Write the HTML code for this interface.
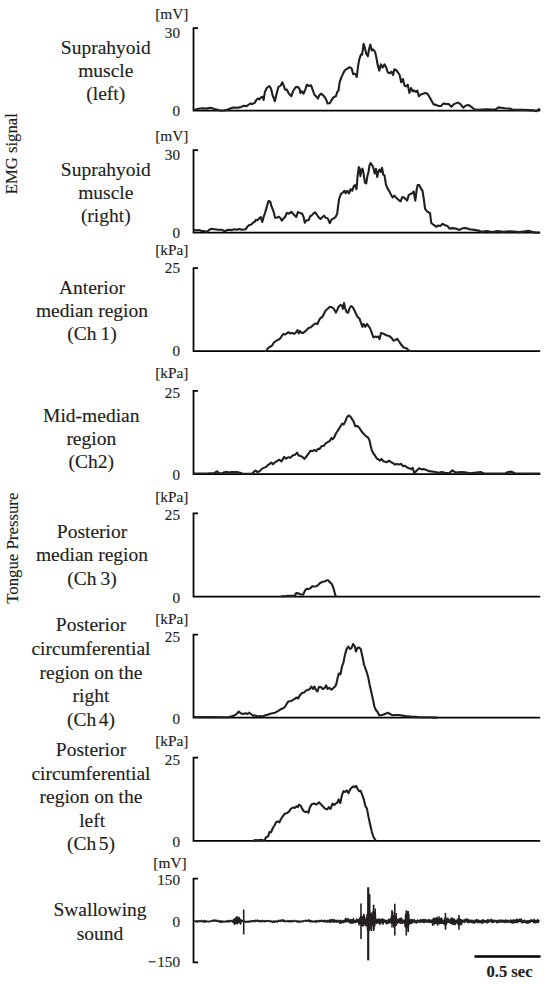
<!DOCTYPE html>
<html><head><meta charset="utf-8"><style>
html,body{margin:0;padding:0;background:#fff;width:550px;height:984px;overflow:hidden}
svg{display:block}
text{font-family:"Liberation Serif",serif}
</style></head><body>
<svg width="550" height="984" viewBox="0 0 550 984">
<rect width="100%" height="100%" fill="#fff"/>
<path d="M198.0,28.0 H193.5 V110.6 H540.2" fill="none" stroke="#000" stroke-width="1.75"/>
<path d="M198.0,150.2 H193.5 V232.6 H540.2" fill="none" stroke="#000" stroke-width="1.75"/>
<path d="M198.0,268.0 H193.5 V351.2 H540.2" fill="none" stroke="#000" stroke-width="1.75"/>
<path d="M198.0,390.9 H193.5 V474.0 H540.2" fill="none" stroke="#000" stroke-width="1.75"/>
<path d="M198.0,513.4 H193.5 V596.5 H540.2" fill="none" stroke="#000" stroke-width="1.75"/>
<path d="M198.0,634.5 H193.5 V717.6 H540.2" fill="none" stroke="#000" stroke-width="1.75"/>
<path d="M198.0,757.5 H193.5 V840.8 H540.2" fill="none" stroke="#000" stroke-width="1.75"/>
<path d="M198.0,878.7 H193.5 V962.3 H198.0" fill="none" stroke="#000" stroke-width="1.75"/>
<path d="M194.1,109.9 L198.2,108.8 L202.3,108.3 L206.4,108.6 L210.5,107.8 L214.5,109.1 L218.6,110.1 L222.7,110.7 L226.8,109.9 L230.9,108.3 L233.4,107.5 L237.5,107.8 L240.7,107.1 L244.0,105.8 L246.5,106.1 L248.9,104.5 L250.5,103.4 L252.2,104.2 L254.6,102.9 L256.3,100.1 L257.9,98.5 L259.5,99.3 L261.2,97.3 L262.8,96.8 L263.6,100.1 L264.9,91.9 L266.9,87.8 L269.4,86.2 L271.0,88.6 L272.6,95.2 L274.8,101.2 L276.6,93.7 L278.3,87.2 L280.7,85.5 L282.4,82.3 L284.0,86.4 L285.1,89.6 L286.8,89.6 L288.9,93.7 L291.4,96.2 L293.0,91.3 L295.5,87.2 L297.9,86.9 L299.5,88.8 L300.4,92.9 L302.0,91.3 L303.6,93.7 L305.3,89.6 L306.9,84.7 L308.5,85.9 L311.0,85.2 L312.6,89.6 L314.3,94.5 L315.9,96.2 L317.9,98.6 L319.2,95.4 L321.1,93.7 L323.3,95.4 L325.7,98.6 L327.7,103.5 L329.8,103.2 L331.9,99.5 L333.9,97.0 L335.9,96.2 L337.2,92.1 L338.5,90.5 L339.6,82.3 L341.3,77.4 L342.9,74.1 L344.5,70.8 L346.2,69.2 L347.8,68.4 L349.5,67.2 L351.6,68.4 L353.2,74.1 L355.2,73.8 L356.8,77.0 L358.1,65.9 L359.3,59.4 L360.9,54.5 L362.1,54.8 L363.6,43.8 L364.9,47.9 L366.2,53.6 L367.9,56.1 L369.0,49.5 L370.3,44.6 L371.8,50.4 L373.4,49.5 L375.1,52.0 L376.4,57.7 L377.7,65.1 L379.3,70.8 L380.9,64.3 L382.6,67.5 L384.5,64.3 L386.2,67.5 L387.8,72.5 L389.8,73.3 L391.4,71.6 L393.1,74.9 L394.4,69.2 L396.0,70.0 L398.0,72.5 L399.6,74.9 L401.2,82.3 L402.9,79.0 L404.5,85.5 L406.1,86.4 L407.8,84.7 L409.4,92.9 L411.1,88.0 L412.7,91.3 L414.3,90.5 L416.0,92.1 L417.3,90.5 L418.9,96.2 L420.9,94.5 L423.0,93.7 L425.5,92.9 L427.4,93.7 L429.5,97.0 L431.7,101.1 L433.6,104.4 L436.1,104.9 L438.5,106.0 L441.0,106.0 L443.5,103.5 L445.9,103.9 L448.6,104.1 L451.4,106.8 L454.1,104.1 L457.7,102.6 L460.5,104.1 L463.2,107.7 L465.9,105.5 L468.6,105.0 L471.4,106.8 L474.1,109.2 L477.7,109.9 L481.4,109.5 L486.8,109.2 L492.3,109.5 L495.9,109.2 L498.6,107.4 L501.4,107.7 L505.0,108.3 L509.5,108.5 L512.3,109.5 L517.7,109.9 L523.2,109.7 L528.6,110.1 L534.1,110.4 L536.3,111.2 L538.5,109.3 L539.5,109.6" fill="none" stroke="#231f20" stroke-width="2.1" stroke-linejoin="round" stroke-linecap="round"/>
<path d="M194.1,229.8 L196.5,230.4 L199.0,230.1 L201.5,230.9 L204.7,231.2 L207.2,231.7 L209.3,229.8 L211.6,228.8 L214.5,229.3 L217.8,229.8 L221.1,229.8 L223.5,230.4 L224.7,231.7 L226.8,230.1 L229.3,229.8 L231.7,230.1 L234.2,229.3 L236.6,229.8 L239.1,229.1 L242.4,229.8 L245.6,229.3 L247.3,226.8 L248.9,225.2 L251.4,224.4 L253.0,222.7 L254.6,221.9 L255.8,219.9 L257.4,220.3 L259.1,218.6 L260.7,217.0 L262.3,221.9 L263.6,217.0 L265.3,212.1 L266.9,206.4 L268.5,201.0 L270.2,201.5 L271.5,206.4 L273.5,211.3 L275.1,217.8 L276.6,217.8 L278.6,216.7 L280.2,217.8 L281.9,220.6 L283.5,218.6 L285.1,217.0 L286.8,212.9 L288.9,213.7 L291.4,211.8 L293.0,213.7 L294.6,215.4 L296.3,217.0 L297.9,212.1 L299.9,212.9 L302.0,213.4 L303.6,217.0 L304.8,222.7 L306.4,220.3 L308.5,220.3 L310.2,216.2 L311.8,215.4 L313.5,213.4 L315.1,212.4 L316.7,214.5 L318.4,217.0 L320.5,219.0 L322.5,217.0 L324.1,215.7 L325.7,217.8 L327.7,218.3 L329.8,223.2 L331.5,219.5 L333.6,218.6 L335.5,217.0 L337.2,213.7 L338.0,207.2 L339.1,199.0 L340.8,194.1 L342.9,192.5 L344.5,190.8 L345.7,193.3 L347.3,190.8 L349.0,193.3 L350.6,189.2 L352.2,190.8 L353.9,185.9 L355.2,185.1 L356.5,189.2 L357.6,176.1 L358.8,167.1 L359.8,168.7 L360.4,176.1 L361.3,171.2 L362.5,168.7 L363.6,173.6 L364.9,182.6 L366.2,183.5 L367.4,176.1 L368.5,172.0 L369.5,165.5 L370.6,163.0 L372.3,165.5 L373.4,167.9 L374.7,173.6 L376.0,168.7 L377.2,176.9 L378.3,172.0 L379.6,169.5 L380.9,172.0 L382.1,167.9 L383.2,174.5 L384.5,175.3 L385.9,184.3 L387.5,188.4 L389.5,191.6 L391.1,194.9 L392.7,197.4 L394.4,195.7 L396.0,197.4 L397.6,199.0 L399.3,200.6 L400.6,201.5 L402.2,197.0 L403.9,197.4 L405.5,199.0 L407.1,200.6 L408.8,194.9 L410.4,194.1 L412.0,193.3 L413.7,191.6 L415.3,200.6 L416.5,190.8 L417.6,185.1 L419.2,185.1 L420.9,188.4 L422.5,190.8 L423.8,199.0 L425.1,208.8 L427.1,211.3 L428.7,212.4 L430.0,212.9 L431.2,222.7 L432.8,224.4 L434.5,225.2 L436.1,226.8 L438.2,225.5 L440.2,226.0 L442.6,223.9 L445.1,225.2 L447.5,226.0 L449.5,228.6 L452.3,228.1 L455.9,228.6 L459.5,229.9 L462.3,228.3 L465.9,228.1 L469.5,229.2 L474.1,229.9 L478.6,230.6 L481.4,231.7 L486.8,231.0 L492.3,232.1 L497.7,231.0 L503.2,231.9 L508.6,231.4 L514.1,231.5 L519.5,232.1 L525.0,231.4 L528.6,230.8 L532.3,231.9 L535.9,232.6 L539.2,232.5" fill="none" stroke="#231f20" stroke-width="2.1" stroke-linejoin="round" stroke-linecap="round"/>
<path d="M266.4,350.9 L268.0,348.1 L270.5,346.5 L272.1,345.6 L273.7,342.7 L276.2,340.7 L278.6,339.6 L280.3,338.3 L281.9,335.8 L283.5,333.9 L285.2,334.5 L286.8,333.4 L288.5,332.2 L290.1,333.4 L292.2,332.9 L294.2,333.9 L296.1,332.2 L297.5,330.1 L298.8,333.4 L299.9,330.9 L301.5,332.9 L303.2,332.9 L304.8,331.7 L306.5,330.1 L308.6,328.0 L310.9,327.3 L313.0,325.2 L315.1,323.5 L317.4,324.0 L319.1,320.3 L320.7,317.8 L322.3,317.0 L324.0,313.7 L325.6,310.5 L327.7,308.8 L329.9,306.7 L331.8,307.2 L333.8,308.8 L335.9,312.6 L337.5,309.6 L338.3,307.2 L340.2,305.1 L341.9,305.5 L342.9,308.8 L344.0,303.1 L345.1,308.0 L346.5,312.1 L348.1,312.9 L349.4,308.8 L351.0,306.0 L352.7,307.2 L354.3,310.0 L355.9,313.7 L357.6,317.0 L359.5,318.6 L361.2,323.5 L362.5,326.8 L363.6,324.0 L365.3,326.8 L366.9,324.0 L368.5,326.0 L370.2,328.5 L371.8,332.9 L373.5,337.5 L375.1,336.6 L376.7,337.1 L378.4,336.6 L379.5,339.1 L381.1,332.9 L382.8,333.4 L384.9,334.5 L387.0,335.5 L389.3,336.1 L391.5,337.8 L393.6,340.7 L395.5,339.9 L397.2,338.8 L399.1,341.5 L401.3,344.8 L403.4,347.3 L405.4,348.1 L407.0,348.6 L408.6,350.5 L411.1,351.0" fill="none" stroke="#231f20" stroke-width="2.1" stroke-linejoin="round" stroke-linecap="round"/>
<path d="M194.1,473.5 L206.4,473.5 L214.5,473.0 L217.0,471.4 L219.1,473.0 L221.9,473.5 L224.4,472.2 L226.8,471.9 L229.3,472.5 L231.7,471.9 L234.2,472.2 L236.6,471.9 L239.1,472.5 L242.4,473.5 L247.3,473.8 L252.2,473.8 L253.8,471.9 L255.5,470.5 L257.1,471.9 L259.5,471.4 L262.0,468.6 L264.5,467.6 L266.1,466.9 L267.7,465.3 L269.4,464.0 L271.5,462.7 L273.1,464.3 L274.8,462.4 L276.6,461.4 L279.1,459.7 L281.5,461.4 L284.0,456.9 L286.1,458.6 L288.1,457.3 L290.5,457.6 L293.0,455.3 L295.0,454.8 L297.1,452.7 L298.7,455.6 L300.9,456.0 L302.8,457.3 L304.5,458.9 L306.4,456.5 L308.5,453.7 L310.7,450.7 L312.6,451.1 L314.3,449.9 L316.2,451.1 L317.9,448.8 L319.5,449.1 L321.6,446.1 L323.8,445.8 L325.7,443.4 L327.7,442.2 L329.8,440.9 L331.5,438.0 L332.6,439.3 L334.2,437.3 L335.9,433.5 L338.0,430.3 L340.1,427.0 L342.1,423.7 L343.7,424.5 L345.4,421.3 L347.0,417.2 L348.6,415.5 L350.3,416.4 L351.9,418.8 L353.5,421.3 L355.2,426.2 L357.1,425.9 L359.3,427.8 L360.9,430.3 L362.9,433.1 L364.6,434.7 L366.2,436.4 L368.2,437.7 L369.5,440.5 L370.6,445.4 L371.8,450.3 L373.4,453.5 L375.1,455.7 L376.7,458.5 L378.3,459.3 L380.0,460.6 L381.6,458.9 L383.2,461.2 L385.4,461.7 L387.0,462.2 L389.1,460.6 L391.1,462.2 L392.7,462.9 L394.7,464.5 L396.8,463.9 L399.3,464.5 L401.2,463.9 L402.9,466.1 L405.0,465.8 L407.1,467.5 L409.1,468.3 L411.1,469.1 L412.7,467.8 L414.3,473.2 L416.5,470.7 L419.2,468.3 L421.4,469.4 L423.8,469.1 L426.3,469.9 L428.7,471.1 L432.0,471.5 L435.3,472.0 L438.5,472.7 L441.8,472.0 L445.1,472.7 L449.2,473.2 L452.3,470.4 L455.5,472.5 L461.0,472.0 L465.0,472.2 L470.0,473.3 L480.5,472.0 L484.0,473.5 L505.0,473.6 L508.0,472.0 L511.4,471.6 L515.0,473.3 L539.5,473.6" fill="none" stroke="#231f20" stroke-width="2.1" stroke-linejoin="round" stroke-linecap="round"/>
<path d="M281.6,596.3 L284.5,596.3 L287.5,595.9 L291.8,595.9 L294.7,595.6 L296.2,593.1 L298.4,593.4 L300.5,594.2 L303.2,594.6 L304.9,590.8 L306.7,588.8 L308.5,589.1 L310.4,588.3 L312.2,586.2 L314.4,586.5 L316.5,586.2 L318.3,584.7 L320.2,583.0 L322.4,581.8 L324.5,581.5 L326.7,580.3 L328.2,580.3 L329.6,582.1 L331.8,584.0 L333.3,587.6 L334.7,592.7 L335.7,596.3" fill="none" stroke="#231f20" stroke-width="2.1" stroke-linejoin="round" stroke-linecap="round"/>
<path d="M194.2,717.0 L210.0,717.1 L227.6,717.3 L230.9,716.5 L234.2,715.6 L236.6,714.0 L238.8,711.5 L240.7,713.2 L243.2,714.0 L245.6,713.2 L247.6,714.0 L249.2,712.7 L250.9,714.0 L253.0,715.6 L255.5,715.6 L257.9,716.5 L260.4,716.0 L262.8,716.5 L265.3,715.3 L267.7,714.8 L270.2,713.7 L272.6,713.2 L275.1,712.7 L277.0,711.6 L279.1,710.3 L281.2,709.0 L283.2,708.3 L285.1,706.7 L286.8,703.7 L288.4,701.3 L290.5,701.3 L292.7,700.1 L294.6,698.8 L296.6,697.5 L298.2,698.5 L299.9,695.2 L302.0,693.1 L304.1,692.6 L306.1,690.6 L308.1,689.8 L309.7,689.3 L311.3,686.5 L313.0,689.0 L314.3,686.5 L315.9,689.8 L317.5,691.5 L318.9,687.0 L320.8,687.0 L322.8,689.0 L324.4,688.2 L326.1,685.4 L327.7,689.0 L329.3,687.7 L331.5,689.8 L333.6,687.7 L335.2,686.5 L336.4,683.8 L337.5,678.4 L338.8,673.5 L340.5,674.3 L342.1,666.1 L343.4,662.8 L345.0,654.6 L346.7,648.9 L348.3,646.5 L350.0,648.9 L351.6,647.8 L353.2,644.0 L354.9,646.5 L356.0,651.4 L357.6,647.8 L359.1,647.4 L360.7,649.0 L362.4,656.4 L364.0,664.5 L366.1,670.3 L368.1,676.8 L369.7,685.0 L371.4,692.4 L373.0,699.7 L374.3,706.3 L375.9,710.0 L377.6,712.0 L379.2,715.3 L381.2,715.3 L383.6,714.5 L386.1,713.6 L387.7,712.8 L390.2,714.0 L392.6,715.3 L395.9,715.0 L399.2,715.0 L402.5,715.6 L405.7,716.1 L410.6,716.6 L415.5,716.9 L420.5,717.2 L428.6,717.2 L436.8,717.6" fill="none" stroke="#231f20" stroke-width="2.1" stroke-linejoin="round" stroke-linecap="round"/>
<path d="M253.2,840.8 L255.6,840.0 L258.1,840.3 L260.5,839.8 L263.0,840.3 L264.6,840.0 L266.3,837.0 L268.2,836.2 L269.5,832.1 L271.2,832.1 L272.8,828.0 L274.5,825.5 L276.1,822.3 L277.7,821.5 L279.4,822.3 L281.0,819.0 L282.6,816.5 L284.6,813.8 L286.7,813.3 L288.9,811.6 L290.8,808.9 L292.8,807.5 L294.9,807.9 L296.5,806.2 L297.7,807.2 L299.0,804.6 L300.6,805.6 L302.3,808.9 L303.6,811.1 L305.5,812.1 L307.2,811.6 L308.5,812.8 L309.6,807.9 L311.6,804.3 L314.1,803.5 L316.5,804.6 L319.0,802.3 L320.6,803.9 L322.8,806.2 L324.7,808.4 L327.2,809.5 L328.8,807.2 L330.5,808.9 L332.6,803.5 L334.2,805.1 L335.9,803.5 L337.5,802.3 L338.6,799.4 L340.3,803.0 L341.9,795.3 L343.5,791.2 L345.2,792.0 L346.8,790.4 L348.5,793.1 L350.1,789.5 L351.7,787.6 L353.4,786.3 L355.0,787.1 L356.1,785.9 L357.8,789.2 L359.1,791.2 L360.7,790.9 L362.4,795.3 L364.0,800.2 L365.6,806.7 L366.9,808.4 L368.6,817.4 L370.2,824.7 L371.9,832.1 L373.5,837.0 L375.5,840.3" fill="none" stroke="#231f20" stroke-width="2.1" stroke-linejoin="round" stroke-linecap="round"/>
<path d="M194.3,921.9 L195.1,920.8 L195.9,921.8 L196.7,920.9 L197.5,922.1 L198.3,920.6 L199.1,921.6 L199.9,920.8 L200.7,921.5 L201.5,920.4 L202.3,921.8 L203.1,920.9 L203.9,922.1 L204.7,920.4 L205.5,922.1 L206.3,920.8 L207.1,921.8 L207.9,921.3 L208.7,922.0 L209.5,921.1 L210.3,921.6 L211.1,920.7 L211.9,921.2 L212.7,920.3 L213.5,921.3 L214.3,919.9 L215.1,921.2 L215.9,920.1 L216.7,921.4 L217.5,920.3 L218.3,921.6 L219.1,920.9 L219.9,922.3 L220.7,920.7 L221.5,922.4 L222.3,921.0 L223.1,922.1 L223.9,921.2 L224.7,921.9 L225.5,921.1 L226.3,922.0 L227.1,920.7 L227.9,921.9 L228.7,920.6 L229.5,921.9 L230.3,920.3 L231.1,921.4 L231.9,920.8 L232.7,922.1 L233.5,919.4 L234.3,924.5 L235.1,919.5 L235.9,922.2 L236.7,918.8 L237.5,923.7 L238.3,919.5 L239.1,921.9 L239.9,919.2 L240.7,923.9 L241.5,920.1 L242.3,921.2 L243.1,920.6 L243.9,921.5 L244.7,921.1 L245.5,922.2 L246.3,921.3 L247.1,922.3 L247.9,921.2 L248.7,922.1 L249.5,921.0 L250.3,921.9 L251.1,920.8 L251.9,921.6 L252.7,920.6 L253.5,921.4 L254.3,920.5 L255.1,921.7 L255.9,920.1 L256.7,921.3 L257.5,920.1 L258.3,921.4 L259.1,920.6 L259.9,922.0 L260.7,920.6 L261.5,921.6 L262.3,920.4 L263.1,921.6 L263.9,920.8 L264.7,921.8 L265.5,920.6 L266.3,921.4 L267.1,920.7 L267.9,921.3 L268.7,920.5 L269.5,921.6 L270.3,920.7 L271.1,921.9 L271.9,921.0 L272.7,922.5 L273.5,921.1 L274.3,922.3 L275.1,920.8 L275.9,921.9 L276.7,921.1 L277.5,922.1 L278.3,920.3 L279.1,921.3 L279.9,920.4 L280.7,921.4 L281.5,919.8 L282.3,921.1 L283.1,919.9 L283.9,921.7 L284.7,920.4 L285.5,921.7 L286.3,921.0 L287.1,921.6 L287.9,920.5 L288.7,921.8 L289.5,920.7 L290.3,921.8 L291.1,920.5 L291.9,921.9 L292.7,920.8 L293.5,921.5 L294.3,920.4 L295.1,921.4 L295.9,920.9 L296.7,921.9 L297.5,920.6 L298.3,922.1 L299.1,921.1 L299.9,922.4 L300.7,921.1 L301.5,921.7 L302.3,920.9 L303.1,921.7 L303.9,920.8 L304.7,921.2 L305.5,920.3 L306.3,921.3 L307.1,920.3 L307.9,921.1 L308.7,919.9 L309.5,921.7 L310.3,920.3 L311.1,921.9 L311.9,920.7 L312.7,921.8 L313.5,921.3 L314.3,921.9 L315.1,920.8 L315.9,922.3 L316.7,920.6 L317.5,921.7 L318.3,920.7 L319.1,921.8 L319.9,920.4 L320.7,921.5 L321.5,920.2 L322.3,921.4 L323.1,920.6 L323.9,921.9 L324.7,920.4 L325.5,922.0 L326.3,920.6 L327.1,922.1 L327.9,920.4 L328.7,922.0 L329.5,919.9 L330.3,922.5 L331.1,919.4 L331.9,921.7 L332.7,919.4 L333.5,922.2 L334.3,919.7 L335.1,922.1 L335.9,920.2 L336.7,922.3 L337.5,920.2 L338.3,922.0 L339.1,920.5 L339.9,923.3 L340.7,920.3 L341.5,923.0 L342.3,920.8 L343.1,922.8 L343.9,920.3 L344.7,922.2 L345.5,918.6 L346.3,921.9 L347.1,918.6 L347.9,921.7 L348.7,918.9 L349.5,922.7 L350.3,919.8 L351.1,923.3 L351.9,919.4 L352.7,923.2 L353.5,918.6 L354.3,922.5 L355.1,920.5 L355.9,922.5 L356.7,919.0 L357.5,922.1 L358.3,919.4 L359.1,924.9 L359.9,917.8 L360.7,923.5 L361.5,917.3 L362.3,923.3 L363.1,918.2 L363.9,923.2 L364.7,919.2 L365.5,925.3 L366.3,917.8 L367.1,925.5 L367.9,919.4 L368.7,924.4 L369.5,919.3 L370.3,922.7 L371.1,918.4 L371.9,924.6 L372.7,917.1 L373.5,924.0 L374.3,916.7 L375.1,922.7 L375.9,919.3 L376.7,923.4 L377.5,919.2 L378.3,922.9 L379.1,918.9 L379.9,924.4 L380.7,919.5 L381.5,922.8 L382.3,918.7 L383.1,924.2 L383.9,919.5 L384.7,922.1 L385.5,920.3 L386.3,923.8 L387.1,920.3 L387.9,923.6 L388.7,919.3 L389.5,922.8 L390.3,918.9 L391.1,922.3 L391.9,920.5 L392.7,923.3 L393.5,920.7 L394.3,924.0 L395.1,920.0 L395.9,922.2 L396.7,920.1 L397.5,923.0 L398.3,919.0 L399.1,922.8 L399.9,918.4 L400.7,923.3 L401.5,917.9 L402.3,923.2 L403.1,919.9 L403.9,923.0 L404.7,920.2 L405.5,922.3 L406.3,919.7 L407.1,923.9 L407.9,920.4 L408.7,922.9 L409.5,919.9 L410.3,923.7 L411.1,919.3 L411.9,923.3 L412.7,919.7 L413.5,922.1 L414.3,919.6 L415.1,922.8 L415.9,920.7 L416.7,923.0 L417.5,919.9 L418.3,922.0 L419.1,920.3 L419.9,922.6 L420.7,919.6 L421.5,922.1 L422.3,919.8 L423.1,922.6 L423.9,919.3 L424.7,922.5 L425.5,919.6 L426.3,922.1 L427.1,920.1 L427.9,922.4 L428.7,919.5 L429.5,922.6 L430.3,920.0 L431.1,922.3 L431.9,920.0 L432.7,925.3 L433.5,918.2 L434.3,924.0 L435.1,918.5 L435.9,923.2 L436.7,918.0 L437.5,924.4 L438.3,919.2 L439.1,922.1 L439.9,918.8 L440.7,923.3 L441.5,918.0 L442.3,923.2 L443.1,920.1 L443.9,924.2 L444.7,920.1 L445.5,924.3 L446.3,919.9 L447.1,923.0 L447.9,918.1 L448.7,922.4 L449.5,919.7 L450.3,923.2 L451.1,918.1 L451.9,924.1 L452.7,918.2 L453.5,924.5 L454.3,918.9 L455.1,924.7 L455.9,920.3 L456.7,923.1 L457.5,919.3 L458.3,923.4 L459.1,918.9 L459.9,924.3 L460.7,919.3 L461.5,924.6 L462.3,920.0 L463.1,922.1 L463.9,919.9 L464.7,922.6 L465.5,918.9 L466.3,921.6 L467.1,919.0 L467.9,922.8 L468.7,919.6 L469.5,922.4 L470.3,920.3 L471.1,922.5 L471.9,920.0 L472.7,922.7 L473.5,920.8 L474.3,923.3 L475.1,920.0 L475.9,922.3 L476.7,919.5 L477.5,922.5 L478.3,919.9 L479.1,922.7 L479.9,920.6 L480.7,922.6 L481.5,920.2 L482.3,923.4 L483.1,919.6 L483.9,922.5 L484.7,920.4 L485.5,922.3 L486.3,920.4 L487.1,923.1 L487.9,919.4 L488.7,922.3 L489.5,920.0 L490.3,921.6 L491.1,919.3 L491.9,922.5 L492.7,920.0 L493.5,922.4 L494.3,920.3 L495.1,921.7 L495.9,920.3 L496.7,922.8 L497.5,920.4 L498.3,922.5 L499.1,920.1 L499.9,922.2 L500.7,919.9 L501.5,922.1 L502.3,920.1 L503.1,922.2 L503.9,920.4 L504.7,922.5 L505.5,920.0 L506.3,922.2 L507.1,920.1 L507.9,922.5 L508.7,920.6 L509.5,922.2 L510.3,920.0 L511.1,922.9 L511.9,920.1 L512.7,923.1 L513.5,919.8 L514.3,922.9 L515.1,920.1 L515.9,922.5 L516.7,919.0 L517.5,922.6 L518.3,919.7 L519.1,921.7 L519.9,919.0 L520.7,921.8 L521.5,919.1 L522.3,923.1 L523.1,920.8 L523.9,922.5 L524.7,920.1 L525.5,922.6 L526.3,921.0 L527.1,923.4 L527.9,920.4 L528.7,923.1 L529.5,920.6 L530.3,922.3 L531.1,919.5 L531.9,921.5 L532.7,920.2 L533.5,922.5 L534.3,919.2 L535.1,923.0 L535.9,920.5 L536.7,922.5 L537.5,919.6 L538.3,922.5 L539.1,919.7" fill="none" stroke="#231f20" stroke-width="1.5" stroke-linejoin="round"/>
<path d="M243.7,909.5 V934.4" stroke="#231f20" stroke-width="1.6"/>
<path d="M236.5,916.5 V924.2" stroke="#231f20" stroke-width="1.2"/>
<path d="M239.5,917.0 V923.5" stroke="#231f20" stroke-width="1.2"/>
<path d="M361.0,903.5 V938.9" stroke="#231f20" stroke-width="1.6"/>
<path d="M363.8,913.7 V926.3" stroke="#231f20" stroke-width="1.5"/>
<path d="M368.2,887.3 V960.4" stroke="#231f20" stroke-width="2.2"/>
<path d="M369.7,894.2 V929.5" stroke="#231f20" stroke-width="1.6"/>
<path d="M371.2,912.5 V931.0" stroke="#231f20" stroke-width="1.6"/>
<path d="M373.6,904.7 V931.0" stroke="#231f20" stroke-width="1.7"/>
<path d="M375.2,908.4 V923.8" stroke="#231f20" stroke-width="1.5"/>
<path d="M392.0,910.0 V927.5" stroke="#231f20" stroke-width="1.5"/>
<path d="M394.8,903.7 V935.6" stroke="#231f20" stroke-width="1.6"/>
<path d="M396.3,913.0 V926.0" stroke="#231f20" stroke-width="1.3"/>
<path d="M406.3,910.3 V935.6" stroke="#231f20" stroke-width="1.6"/>
<path d="M408.2,911.0 V932.0" stroke="#231f20" stroke-width="1.5"/>
<path d="M445.5,912.9 V929.7" stroke="#231f20" stroke-width="1.6"/>
<path d="M459.0,915.0 V929.7" stroke="#231f20" stroke-width="1.6"/>
<path d="M233.5,921.2 L233.9,922.2 L234.4,918.8 L234.8,923.3 L235.3,917.9 L235.7,923.9 L236.2,919.0 L236.6,923.4 L237.1,916.5 L237.5,923.8 L238.0,916.7 L238.4,922.7 L238.9,918.2 L239.3,922.6 L239.8,918.8 L240.2,922.4 L240.7,920.6" fill="none" stroke="#231f20" stroke-width="1.1" stroke-linejoin="round"/>
<path d="M360.0,921.2 L360.4,922.7 L360.9,915.5 L361.3,925.3 L361.8,916.7 L362.2,926.2 L362.7,916.4 L363.1,925.7 L363.6,916.8 L364.0,923.4 L364.5,915.3 L364.9,922.8 L365.4,920.3" fill="none" stroke="#231f20" stroke-width="1.1" stroke-linejoin="round"/>
<path d="M366.0,921.2 L366.4,925.9 L366.9,914.4 L367.3,930.1 L367.8,909.8 L368.2,930.0 L368.7,912.1 L369.1,931.1 L369.6,909.7 L370.0,928.7 L370.5,913.7 L370.9,922.0" fill="none" stroke="#231f20" stroke-width="1.1" stroke-linejoin="round"/>
<path d="M371.0,921.2 L371.4,923.6 L371.9,915.2 L372.3,925.1 L372.8,911.6 L373.2,928.8 L373.7,913.7 L374.1,929.0 L374.6,911.8 L375.0,925.9 L375.5,912.4 L375.9,923.4" fill="none" stroke="#231f20" stroke-width="1.1" stroke-linejoin="round"/>
<path d="M390.3,921.2 L390.8,922.9 L391.2,916.0 L391.6,923.3 L392.1,912.3 L392.5,923.8 L393.0,912.0 L393.4,926.9 L393.9,916.0 L394.3,926.7 L394.8,914.2 L395.2,925.6 L395.7,917.0 L396.1,923.4 L396.6,917.6 L397.0,923.8 L397.5,920.3" fill="none" stroke="#231f20" stroke-width="1.1" stroke-linejoin="round"/>
<path d="M404.5,921.2 L404.9,926.6 L405.4,914.1 L405.8,927.8 L406.3,914.6 L406.7,930.4 L407.2,911.4 L407.6,927.6 L408.1,912.2 L408.5,930.7 L409.0,914.1 L409.4,924.2 L409.9,919.3" fill="none" stroke="#231f20" stroke-width="1.1" stroke-linejoin="round"/>
<path d="M432.0,921.2 L432.4,922.0 L432.9,919.4 L433.3,923.5 L433.8,919.0 L434.2,924.2 L434.7,918.1 L435.1,923.5 L435.6,918.2 L436.0,923.4 L436.5,918.7 L436.9,923.5 L437.4,916.9 L437.8,925.5 L438.3,918.4 L438.7,923.2 L439.2,916.4 L439.6,924.0 L440.1,918.3 L440.5,923.1 L441.0,918.4 L441.4,923.5 L441.9,919.4 L442.3,922.3 L442.8,920.8" fill="none" stroke="#231f20" stroke-width="1.1" stroke-linejoin="round"/>
<path d="M444.0,921.2 L444.4,922.9 L444.9,917.3 L445.3,926.4 L445.8,918.1 L446.2,925.2 L446.7,918.2" fill="none" stroke="#231f20" stroke-width="1.1" stroke-linejoin="round"/>
<path d="M457.5,921.2 L457.9,924.4 L458.4,918.9 L458.8,925.2 L459.3,918.5 L459.7,925.5 L460.2,919.6" fill="none" stroke="#231f20" stroke-width="1.1" stroke-linejoin="round"/>
<path d="M474.5,956.6 H540.6" stroke="#000" stroke-width="2.5"/>
<text x="180.0" y="37.6" font-size="15.2" text-anchor="end" font-family="Liberation Serif, serif" fill="#231f20" stroke="#231f20" stroke-width="0.15" >30</text>
<text x="180.0" y="115.6" font-size="15.2" text-anchor="end" font-family="Liberation Serif, serif" fill="#231f20" stroke="#231f20" stroke-width="0.15" >0</text>
<text x="180.0" y="159.79999999999998" font-size="15.2" text-anchor="end" font-family="Liberation Serif, serif" fill="#231f20" stroke="#231f20" stroke-width="0.15" >30</text>
<text x="180.0" y="237.6" font-size="15.2" text-anchor="end" font-family="Liberation Serif, serif" fill="#231f20" stroke="#231f20" stroke-width="0.15" >0</text>
<text x="180.0" y="273.2" font-size="15.2" text-anchor="end" font-family="Liberation Serif, serif" fill="#231f20" stroke="#231f20" stroke-width="0.15" >25</text>
<text x="180.0" y="356.2" font-size="15.2" text-anchor="end" font-family="Liberation Serif, serif" fill="#231f20" stroke="#231f20" stroke-width="0.15" >0</text>
<text x="180.0" y="398.2" font-size="15.2" text-anchor="end" font-family="Liberation Serif, serif" fill="#231f20" stroke="#231f20" stroke-width="0.15" >25</text>
<text x="180.0" y="480.3" font-size="15.2" text-anchor="end" font-family="Liberation Serif, serif" fill="#231f20" stroke="#231f20" stroke-width="0.15" >0</text>
<text x="180.0" y="519.8" font-size="15.2" text-anchor="end" font-family="Liberation Serif, serif" fill="#231f20" stroke="#231f20" stroke-width="0.15" >25</text>
<text x="180.0" y="602.5" font-size="15.2" text-anchor="end" font-family="Liberation Serif, serif" fill="#231f20" stroke="#231f20" stroke-width="0.15" >0</text>
<text x="180.0" y="641.5" font-size="15.2" text-anchor="end" font-family="Liberation Serif, serif" fill="#231f20" stroke="#231f20" stroke-width="0.15" >25</text>
<text x="180.0" y="723.6" font-size="15.2" text-anchor="end" font-family="Liberation Serif, serif" fill="#231f20" stroke="#231f20" stroke-width="0.15" >0</text>
<text x="180.0" y="765.1" font-size="15.2" text-anchor="end" font-family="Liberation Serif, serif" fill="#231f20" stroke="#231f20" stroke-width="0.15" >25</text>
<text x="180.0" y="846.8" font-size="15.2" text-anchor="end" font-family="Liberation Serif, serif" fill="#231f20" stroke="#231f20" stroke-width="0.15" >0</text>
<text x="171.8" y="19.0" font-size="15.4" text-anchor="middle" font-family="Liberation Serif, serif" fill="#231f20" stroke="#231f20" stroke-width="0.15" >[mV]</text>
<text x="171.8" y="140.5" font-size="15.4" text-anchor="middle" font-family="Liberation Serif, serif" fill="#231f20" stroke="#231f20" stroke-width="0.15" >[mV]</text>
<text x="171.8" y="254.8" font-size="15.4" text-anchor="middle" font-family="Liberation Serif, serif" fill="#231f20" stroke="#231f20" stroke-width="0.15" >[kPa]</text>
<text x="171.8" y="378.0" font-size="15.4" text-anchor="middle" font-family="Liberation Serif, serif" fill="#231f20" stroke="#231f20" stroke-width="0.15" >[kPa]</text>
<text x="171.8" y="501.8" font-size="15.4" text-anchor="middle" font-family="Liberation Serif, serif" fill="#231f20" stroke="#231f20" stroke-width="0.15" >[kPa]</text>
<text x="171.8" y="624.2" font-size="15.4" text-anchor="middle" font-family="Liberation Serif, serif" fill="#231f20" stroke="#231f20" stroke-width="0.15" >[kPa]</text>
<text x="171.8" y="745.6" font-size="15.4" text-anchor="middle" font-family="Liberation Serif, serif" fill="#231f20" stroke="#231f20" stroke-width="0.15" >[kPa]</text>
<text x="170.0" y="868.0" font-size="15.4" text-anchor="middle" font-family="Liberation Serif, serif" fill="#231f20" stroke="#231f20" stroke-width="0.15" >[mV]</text>
<text x="180.0" y="884.6" font-size="15.2" text-anchor="end" font-family="Liberation Serif, serif" fill="#231f20" stroke="#231f20" stroke-width="0.15" >150</text>
<text x="180.0" y="926.7" font-size="15.2" text-anchor="end" font-family="Liberation Serif, serif" fill="#231f20" stroke="#231f20" stroke-width="0.15" >0</text>
<text x="180.0" y="967.1" font-size="15.2" text-anchor="end" font-family="Liberation Serif, serif" fill="#231f20" stroke="#231f20" stroke-width="0.15" >−<tspan dx="0.8">150</tspan></text>
<text x="509.5" y="977.2" font-size="16.6" text-anchor="middle" font-family="Liberation Serif, serif" fill="#231f20" stroke="#231f20" stroke-width="0.15" font-weight="bold">0.5 sec</text>
<text x="105.8" y="53.6" font-size="19.5" text-anchor="middle" font-family="Liberation Serif, serif" fill="#231f20" stroke="#231f20" stroke-width="0.15" >Suprahyoid</text>
<text x="105.8" y="76.5" font-size="19.5" text-anchor="middle" font-family="Liberation Serif, serif" fill="#231f20" stroke="#231f20" stroke-width="0.15" >muscle</text>
<text x="105.8" y="99.5" font-size="19.5" text-anchor="middle" font-family="Liberation Serif, serif" fill="#231f20" stroke="#231f20" stroke-width="0.15" >(left)</text>
<text x="105.8" y="175.9" font-size="19.5" text-anchor="middle" font-family="Liberation Serif, serif" fill="#231f20" stroke="#231f20" stroke-width="0.15" >Suprahyoid</text>
<text x="105.8" y="199.4" font-size="19.5" text-anchor="middle" font-family="Liberation Serif, serif" fill="#231f20" stroke="#231f20" stroke-width="0.15" >muscle</text>
<text x="105.8" y="222.2" font-size="19.5" text-anchor="middle" font-family="Liberation Serif, serif" fill="#231f20" stroke="#231f20" stroke-width="0.15" >(right)</text>
<text x="92.0" y="293.6" font-size="19.5" text-anchor="middle" font-family="Liberation Serif, serif" fill="#231f20" stroke="#231f20" stroke-width="0.15" >Anterior</text>
<text x="92.0" y="316.5" font-size="19.5" text-anchor="middle" font-family="Liberation Serif, serif" fill="#231f20" stroke="#231f20" stroke-width="0.15" >median region</text>
<text x="92.0" y="340.3" font-size="19.5" text-anchor="middle" font-family="Liberation Serif, serif" fill="#231f20" stroke="#231f20" stroke-width="0.15" >(Ch 1)</text>
<text x="91.3" y="422.0" font-size="19.5" text-anchor="middle" font-family="Liberation Serif, serif" fill="#231f20" stroke="#231f20" stroke-width="0.15" >Mid-median</text>
<text x="91.3" y="445.0" font-size="19.5" text-anchor="middle" font-family="Liberation Serif, serif" fill="#231f20" stroke="#231f20" stroke-width="0.15" >region</text>
<text x="91.3" y="468.0" font-size="19.5" text-anchor="middle" font-family="Liberation Serif, serif" fill="#231f20" stroke="#231f20" stroke-width="0.15" >(Ch2)</text>
<text x="92.0" y="538.2" font-size="19.5" text-anchor="middle" font-family="Liberation Serif, serif" fill="#231f20" stroke="#231f20" stroke-width="0.15" >Posterior</text>
<text x="92.0" y="561.0" font-size="19.5" text-anchor="middle" font-family="Liberation Serif, serif" fill="#231f20" stroke="#231f20" stroke-width="0.15" >median region</text>
<text x="92.0" y="584.8" font-size="19.5" text-anchor="middle" font-family="Liberation Serif, serif" fill="#231f20" stroke="#231f20" stroke-width="0.15" >(Ch 3)</text>
<text x="91.0" y="631.1" font-size="19.5" text-anchor="middle" font-family="Liberation Serif, serif" fill="#231f20" stroke="#231f20" stroke-width="0.15" >Posterior</text>
<text x="91.0" y="654.6" font-size="19.5" text-anchor="middle" font-family="Liberation Serif, serif" fill="#231f20" stroke="#231f20" stroke-width="0.15" >circumferential</text>
<text x="91.0" y="678.5" font-size="19.5" text-anchor="middle" font-family="Liberation Serif, serif" fill="#231f20" stroke="#231f20" stroke-width="0.15" >region on the</text>
<text x="91.0" y="702.0" font-size="19.5" text-anchor="middle" font-family="Liberation Serif, serif" fill="#231f20" stroke="#231f20" stroke-width="0.15" >right</text>
<text x="91.0" y="725.5" font-size="19.5" text-anchor="middle" font-family="Liberation Serif, serif" fill="#231f20" stroke="#231f20" stroke-width="0.15" >(Ch <tspan dx="-1.3">4)</tspan></text>
<text x="91.0" y="756.3" font-size="19.5" text-anchor="middle" font-family="Liberation Serif, serif" fill="#231f20" stroke="#231f20" stroke-width="0.15" >Posterior</text>
<text x="91.0" y="780.2" font-size="19.5" text-anchor="middle" font-family="Liberation Serif, serif" fill="#231f20" stroke="#231f20" stroke-width="0.15" >circumferential</text>
<text x="91.0" y="803.4" font-size="19.5" text-anchor="middle" font-family="Liberation Serif, serif" fill="#231f20" stroke="#231f20" stroke-width="0.15" >region on the</text>
<text x="92.2" y="827.1" font-size="19.5" text-anchor="middle" font-family="Liberation Serif, serif" fill="#231f20" stroke="#231f20" stroke-width="0.15" >left</text>
<text x="91.0" y="850.4" font-size="19.5" text-anchor="middle" font-family="Liberation Serif, serif" fill="#231f20" stroke="#231f20" stroke-width="0.15" >(Ch <tspan dx="-1.3">5)</tspan></text>
<text x="100.0" y="916.0" font-size="19.5" text-anchor="middle" font-family="Liberation Serif, serif" fill="#231f20" stroke="#231f20" stroke-width="0.15" >Swallowing</text>
<text x="100.0" y="939.5" font-size="19.5" text-anchor="middle" font-family="Liberation Serif, serif" fill="#231f20" stroke="#231f20" stroke-width="0.15" >sound</text>
<text transform="translate(16.9,153.75) rotate(-90)" font-size="16.7" text-anchor="middle" font-family="Liberation Serif, serif" fill="#231f20" stroke="#231f20" stroke-width="0.15">EMG signal</text>
<text transform="translate(18.0,548.2) rotate(-90)" font-size="16.8" text-anchor="middle" font-family="Liberation Serif, serif" fill="#231f20" stroke="#231f20" stroke-width="0.15">Tongue Pressure</text>
</svg>
</body></html>
